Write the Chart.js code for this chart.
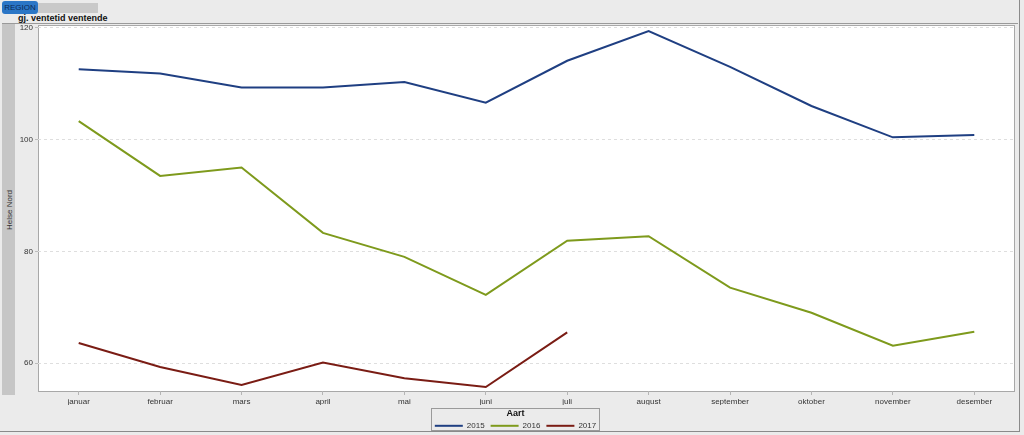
<!DOCTYPE html>
<html>
<head>
  <title>gj. ventetid ventende</title>
  <script src="https://cdn.jsdelivr.net/npm/chart.js"></script>
  <style>
    body {
      margin: 0;
      width: 1024px;
      height: 435px;
      overflow: hidden;
      background: #ebebeb;
      font-family: 'Liberation Sans', Arial, sans-serif;
      position: relative;
    }
    .frame {
      position: absolute; left: 0; top: 0; width: 1020px; height: 432px;
      border-right: 1px solid #8a8a8a; border-bottom: 1px solid #8a8a8a;
      box-sizing: border-box;
    }
    .region-btn {
      position: absolute; left: 2px; top: 1px; width: 36px; height: 13px;
      background: #2b76c6; border-radius: 3px; color: #0d2b55;
      font-size: 8px; line-height: 13px; text-align: center;
    }
    .region-bar {
      position: absolute; left: 38px; top: 3px; width: 60px; height: 10px;
      background: #c9c9c9;
    }
    .title {
      position: absolute; left: 18px; top: 13px; font-size: 9px; font-weight: bold; color: #111;
    }
    .sep {
      position: absolute; left: 2px; top: 23px; width: 1016px; height: 1px; background: #9a9a9a;
    }
    .strip {
      position: absolute; left: 2px; top: 24px; width: 13px; height: 371px; background: #c6c6c6;
    }
    .strip span {
      position: absolute; left: 50%; top: 50%; white-space: nowrap;
      transform: translate(-50%, -50%) rotate(-90deg);
      font-size: 8px; color: #333;
    }
    canvas { position: absolute; left: 0; top: 0; }
  </style>
</head>
<body>
  <div class="frame"></div>
  <div class="region-btn">REGION</div>
  <div class="region-bar"></div>
  <div class="title">gj. ventetid ventende</div>
  <div class="sep"></div>
  <div class="strip"><span>Helse Nord</span></div>
  <canvas id="chart" width="1024" height="435"></canvas>

  <script>
    const months = ['januar', 'februar', 'mars', 'april', 'mai', 'juni', 'juli',
                    'august', 'september', 'oktober', 'november', 'desember'];
    const values2015 = [112.6, 111.8, 109.3, 109.3, 110.3, 106.6, 114.1, 119.4, 113.0, 106.0, 100.4, 100.8];
    const values2016 = [103.3, 93.5, 95.0, 83.3, 79.0, 72.2, 81.9, 82.7, 73.5, 69.0, 63.1, 65.6];
    const values2017 = [63.6, 59.3, 56.1, 60.1, 57.3, 55.7, 65.5];
    const yTicks = [60, 80, 100, 120];

    // white plot area + frame, a box around the legend items, fixed legend height
    const plotBg = {
      id: 'plotBg',
      beforeLayout(chart) {
        const lg = chart.legend;
        if (lg && !lg._fixedFit) {
          const fit = lg.fit;
          lg.fit = function () { fit.call(this); this.height = 30; };
          lg._fixedFit = true;
        }
      },
      beforeDraw(chart) {
        const { ctx, chartArea: a } = chart;
        ctx.save();
        ctx.fillStyle = '#ffffff';
        ctx.fillRect(a.left, a.top, a.right - a.left, a.bottom - a.top);
        ctx.strokeStyle = '#a8a8a8';
        ctx.lineWidth = 1;
        ctx.strokeRect(a.left + 0.5, a.top + 0.5, a.right - a.left - 1, a.bottom - a.top);
        ctx.restore();
      },
      afterDraw(chart) {
        const l = chart.legend;
        const boxes = l.legendHitBoxes;
        const left = Math.min(...boxes.map(b => b.left)) - 4;
        const right = Math.max(...boxes.map(b => b.left + b.width)) + 3;
        const ctx = chart.ctx;
        ctx.save();
        ctx.strokeStyle = '#9a9a9a';
        ctx.lineWidth = 1;
        ctx.strokeRect(Math.round(left) + 0.5, Math.round(l.top) + 3.5, Math.round(right - left), 22);
        ctx.restore();
      }
    };

    new Chart(document.getElementById('chart'), {
      type: 'line',
      data: {
        labels: months,
        datasets: [
          { label: '2015', data: values2015, borderColor: '#1f3f82', backgroundColor: '#1f3f82', borderWidth: 2 },
          { label: '2016', data: values2016, borderColor: '#7e9a1c', backgroundColor: '#7e9a1c', borderWidth: 2 },
          { label: '2017', data: values2017, borderColor: '#7a1c14', backgroundColor: '#7a1c14', borderWidth: 2 }
        ]
      },
      options: {
        responsive: false,
        animation: false,
        elements: {
          line: { tension: 0 },
          point: { radius: 0 }
        },
        layout: { padding: { left: 16, top: 25, right: 9, bottom: 0 } },
        scales: {
          x: {
            offset: true,
            grid: { display: true, drawOnChartArea: false, drawTicks: true, tickLength: 4, color: '#b5b5b5' },
            border: { display: false },
            ticks: { color: '#333', font: { size: 8, family: 'Liberation Sans' }, padding: 2, maxRotation: 0 },
            afterFit(scale) { scale.height = 14; }
          },
          y: {
            min: 55,
            max: 120.5,
            afterBuildTicks(scale) { scale.ticks = yTicks.map(v => ({ value: v })); },
            afterFit(scale) { scale.width = 22; },
            grid: {
              color: '#dedede',
              tickColor: '#bbb',
              tickLength: 3,
              drawTicks: true
            },
            border: { display: false, dash: [3, 3] },
            ticks: { color: '#333', font: { size: 8, family: 'Liberation Sans' }, padding: 2 }
          }
        },
        plugins: {
          legend: {
            position: 'bottom',
            title: { display: true, text: 'Aart', color: '#111', padding: { top: 4, bottom: -4 }, font: { size: 9, weight: 'bold', family: 'Liberation Sans' } },
            labels: {
              usePointStyle: true,
              pointStyle: 'line',
              pointStyleWidth: 28,
              boxHeight: 2,
              color: '#333',
              padding: 6,
              font: { size: 8, family: 'Liberation Sans' }
            }
          },
          tooltip: { enabled: false }
        }
      },
      plugins: [plotBg]
    });
  </script>
</body>
</html>
